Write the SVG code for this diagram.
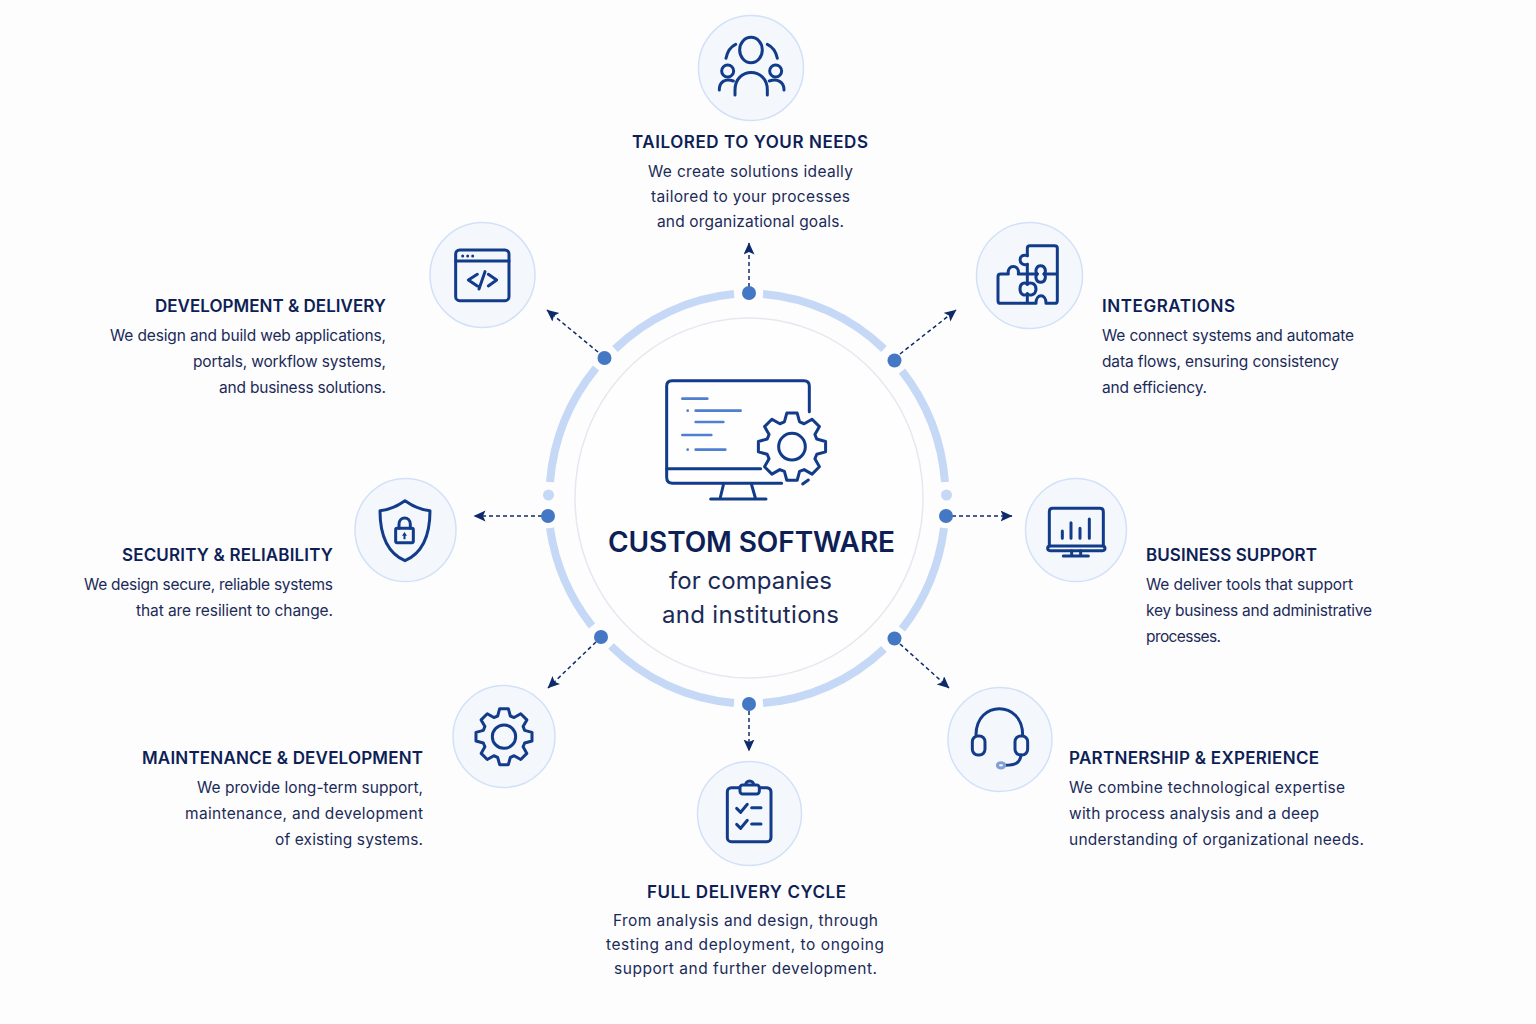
<svg xmlns="http://www.w3.org/2000/svg" width="1536" height="1024" viewBox="0 0 1536 1024">
<style>
text{font-family:"Inter","Noto Sans","Liberation Sans",sans-serif;fill:#1b2a57}
.h{font-size:17px;font-weight:600;fill:#0e1f56}
.b{font-size:15.500px;font-weight:400}
.e{text-anchor:end}.m{text-anchor:middle}
.disc{fill:#f4f8fd;stroke:#d2e1f8;stroke-width:1.5}
.i *{fill:none;stroke:#123c8a;stroke-width:3;stroke-linecap:round;stroke-linejoin:round;vector-effect:non-scaling-stroke}
.gr{fill:none;stroke:#123c8a;stroke-width:3;stroke-linejoin:round;vector-effect:non-scaling-stroke}
.i .f{fill:#123c8a;stroke:none}
.i .bg{fill:#f4f8fd}
.c{fill:none;stroke:#c5d8f5;stroke-width:8}
.d{fill:#4477c4}
.k{stroke:#0f2a6b;stroke-width:1.500;stroke-dasharray:4 3;fill:none;marker-end:url(#ah)}
.code{stroke:#4f7fcf !important;stroke-width:2.600 !important}
</style>
<defs>
<marker id="ah" markerUnits="userSpaceOnUse" markerWidth="14" markerHeight="12" refX="11.500" refY="5.500" orient="auto"><path d="M0 0L12 5.500L0 11L2.500 5.500Z" fill="#0f2a6b"/></marker>
<path id="gear" class="gr" d="M-19-62L-13-84H13L19-62L30.400-57.300L50.200-68.600L68.600-50.200L57.300-30.400L62-19L84-13V13L62 19L57.300 30.400L68.600 50.200L50.200 68.600L30.400 57.300L19 62L13 84H-13L-19 62L-30.400 57.300L-50.200 68.600L-68.600 50.200L-57.300 30.400L-62 19L-84 13V-13L-62-19L-57.300-30.400L-68.600-50.200L-50.200-68.600L-30.400-57.300Z"/>
</defs>
<rect width="1536" height="1024" fill="#fdfdfe"/>
<g id="ring">
<ellipse cx="749" cy="498" rx="174" ry="180" fill="#fefefe" stroke="#e4e8ef" stroke-width="1.500"/>
<path class="c" d="M763 294A200 204.500 0 0 1 884 349"/>
<path class="c" d="M902 371A200 204.500 0 0 1 945 482"/>
<path class="c" d="M944 528A200 204.500 0 0 1 902 629"/>
<path class="c" d="M884 649A200 204.500 0 0 1 763 703"/>
<path class="c" d="M734 703A200 204.500 0 0 1 611 646"/>
<path class="c" d="M592 626A200 204.500 0 0 1 550 528"/>
<path class="c" d="M550 482A200 204.500 0 0 1 596 368"/>
<path class="c" d="M615 349A200 204.500 0 0 1 734 294"/>
<circle cx="548.500" cy="495" r="5.500" fill="#c5d8f5"/>
<circle cx="946.500" cy="495" r="5.500" fill="#c5d8f5"/>
</g>
<g id="connectors">
<path class="k" d="M749 287V243"/>
<path class="k" d="M900 354L956 310"/>
<path class="k" d="M952 516H1012"/>
<path class="k" d="M900 644L949 688"/>
<path class="k" d="M749 711V751"/>
<path class="k" d="M596 642L548 688"/>
<path class="k" d="M542 516H474"/>
<path class="k" d="M598 352L547 310"/>
<g class="d">
<circle cx="749" cy="293" r="7"/><circle cx="894.500" cy="360.500" r="7"/><circle cx="946" cy="516" r="7"/><circle cx="894.500" cy="638.500" r="7"/><circle cx="749" cy="704" r="7"/><circle cx="601" cy="637" r="7"/><circle cx="548" cy="516" r="7"/><circle cx="604.500" cy="358" r="7"/>
</g>
</g>
<g id="center">
<g class="i" transform="translate(650 370) scale(.3333)">
<path d="M478 125V48Q478 32 462 32H66Q50 32 50 48V322Q50 340 68 340H395"/>
<path d="M50 296H332"/>
<path d="M220 345L210 387M305 345L317 387M182 387H348"/>
<path d="M458 342L475 330"/>
<path class="code" d="M97 86H172M137 122H272M137 156H220M97 195H184M137 239H226"/>
<circle class="f" cx="113" cy="122" r="4" style="fill:#4f7fcf"/><circle class="f" cx="113" cy="239" r="4" style="fill:#4f7fcf"/>
<use href="#gear" transform="translate(426 230) scale(1.200)"/>
<circle cx="426" cy="230" r="40"/>
</g>
<text x="751.500" y="551.500" class="m" style="font-size:28px;font-weight:600;fill:#0e1f56" textLength="287">CUSTOM SOFTWARE</text>
<text x="750.500" y="589" class="m" style="font-size:24px" textLength="163">for companies</text>
<text x="750.500" y="623" class="m" style="font-size:24px" textLength="177">and institutions</text>
</g>
<g id="node-tailored">
<circle class="disc" cx="751" cy="68" r="52.500"/>
<g class="i" transform="translate(690 10) scale(.3333)">
<ellipse cx="183" cy="120" rx="34" ry="38"/>
<path d="M108 145C112 125 122 110 137 103M232 103C247 110 258 125 262 145"/>
<circle cx="113" cy="183" r="18"/><circle cx="257" cy="183" r="18"/>
<path d="M135 255V240C135 170 232 170 232 240V255"/>
<path d="M88 240C88 215 105 205 130 213M282 240C282 215 262 205 238 213"/>
</g>
<text x="750" y="147.500" class="h m" textLength="236">TAILORED TO YOUR NEEDS</text>
<text x="750.500" y="176.500" class="b m" textLength="205">We create solutions ideally</text>
<text x="750.500" y="202" class="b m" textLength="199">tailored to your processes</text>
<text x="750.500" y="227" class="b m" textLength="187">and organizational goals.</text>
</g>
<g id="node-integrations">
<circle class="disc" cx="1029.500" cy="275.500" r="53"/>
<g class="i" transform="translate(970 215) scale(.3333)">
<path d="M172 122V100Q172 92 180 92H254Q262 92 262 100V257Q262 265 254 265H228C228 235 198 235 198 265H92Q84 265 84 257V185Q84 177 92 177H115C110 147 150 147 145 177H202M222 177H262M172 148V208M172 236V265"/>
<path d="M172 122C143 112 143 156 172 148"/>
<path d="M202 177C194 170 198 152 212 152C226 152 230 170 222 177C230 184 226 202 212 202C198 202 194 184 202 177Z"/>
<path d="M172 208C165 200 150 204 150 222C150 240 165 244 172 236C179 244 198 240 198 222C198 204 179 200 172 208Z"/>
</g>
<text x="1102" y="312" class="h" textLength="133">INTEGRATIONS</text>
<text x="1102" y="341" class="b" textLength="252">We connect systems and automate</text>
<text x="1102" y="367" class="b" textLength="237">data flows, ensuring consistency</text>
<text x="1102" y="393" class="b" textLength="105">and efficiency.</text>
</g>
<g id="node-business">
<ellipse class="disc" cx="1076" cy="530" rx="50.500" ry="51.500"/>
<g class="i" transform="translate(1020 470) scale(.3333)">
<path d="M88 228V125Q88 115 98 115H240Q250 115 250 125V228"/>
<rect x="83" y="228" width="172" height="14" rx="7"/>
<path d="M155 242V257M182 242V257M130 258H205"/>
<path d="M127 183V205M153 158V205M180 175V205M208 147V205"/>
</g>
<text x="1146" y="561" class="h" textLength="171">BUSINESS SUPPORT</text>
<text x="1146" y="590" class="b" textLength="207">We deliver tools that support</text>
<text x="1146" y="616" class="b" textLength="226">key business and administrative</text>
<text x="1146" y="642" class="b" textLength="75">processes.</text>
</g>
<g id="node-partnership">
<circle class="disc" cx="1000" cy="739.500" r="52"/>
<g class="i" transform="translate(940 680) scale(.3333)">
<path d="M108 165C108 60 248 60 248 165"/>
<rect x="97" y="168" width="38" height="57" rx="17"/>
<rect x="225" y="168" width="38" height="57" rx="17"/>
<path d="M243 225C240 250 225 256 195 256"/>
<ellipse cx="183" cy="256" rx="11" ry="8" style="stroke:#7f9fd6"/>
</g>
<text x="1069" y="764" class="h" textLength="250">PARTNERSHIP &amp; EXPERIENCE</text>
<text x="1069" y="793" class="b" textLength="276">We combine technological expertise</text>
<text x="1069" y="819" class="b" textLength="250">with process analysis and a deep</text>
<text x="1069" y="845" class="b" textLength="295">understanding of organizational needs.</text>
</g>
<g id="node-delivery">
<circle class="disc" cx="749.500" cy="813.500" r="52"/>
<g class="i" transform="translate(690 755) scale(.3333)">
<rect x="112" y="98" width="131" height="162" rx="12"/>
<path d="M167 90A12 12 0 0 1 191 90"/>
<rect class="bg" x="150" y="90" width="58" height="27" rx="8"/>
<path d="M140 160L152 172L172 148M185 158H213M140 208L152 220L172 196M185 207H213"/>
</g>
<text x="746.500" y="898" class="h m" textLength="199">FULL DELIVERY CYCLE</text>
<text x="745.500" y="926" class="b m" textLength="265">From analysis and design, through</text>
<text x="745" y="950" class="b m" textLength="278">testing and deployment, to ongoing</text>
<text x="745.500" y="974" class="b m" textLength="263">support and further development.</text>
</g>
<g id="node-maintenance">
<circle class="disc" cx="504" cy="736.500" r="51"/>
<g class="i" transform="translate(445 678) scale(.3333)">
<use href="#gear" transform="translate(177 176)"/>
<circle cx="177" cy="176" r="35"/>
</g>
<text x="423" y="764" class="h e" textLength="281">MAINTENANCE &amp; DEVELOPMENT</text>
<text x="423" y="793" class="b e" textLength="226">We provide long-term support,</text>
<text x="423" y="819" class="b e" textLength="238">maintenance, and development</text>
<text x="423" y="845" class="b e" textLength="148">of existing systems.</text>
</g>
<g id="node-security">
<ellipse class="disc" cx="405.500" cy="530" rx="50.500" ry="51.500"/>
<g class="i" transform="translate(350 470) scale(.3333)">
<path d="M165 92C190 110 215 120 240 122C240 200 215 250 165 272C115 250 90 200 90 122C115 120 140 110 165 92Z"/>
<rect x="137" y="175" width="53" height="43" rx="4"/>
<path d="M147 175V163C147 138 181 138 181 163V175"/>
<path class="f" d="M163.500 186L171 197H166.500V208H160.500V197H156Z"/>
</g>
<text x="333" y="561" class="h e" textLength="211">SECURITY &amp; RELIABILITY</text>
<text x="333" y="590" class="b e" textLength="249">We design secure, reliable systems</text>
<text x="333" y="616" class="b e" textLength="197">that are resilient to change.</text>
</g>
<g id="node-development">
<circle class="disc" cx="482.500" cy="275" r="52.500"/>
<g class="i" transform="translate(425 215) scale(.3333)">
<rect x="92" y="105" width="160" height="152" rx="12"/>
<path d="M92 138H252"/>
<circle class="f" cx="113" cy="123" r="4.500"/><circle class="f" cx="128" cy="123" r="4.500"/><circle class="f" cx="143" cy="123" r="4.500"/>
<path d="M157 178L130 195L157 213M190 178L215 195L190 213M180 170L162 222"/>
</g>
<text x="386" y="312" class="h e" textLength="231">DEVELOPMENT &amp; DELIVERY</text>
<text x="386" y="341" class="b e" textLength="276">We design and build web applications,</text>
<text x="386" y="367" class="b e" textLength="193">portals, workflow systems,</text>
<text x="386" y="393" class="b e" textLength="167">and business solutions.</text>
</g>
</svg>
